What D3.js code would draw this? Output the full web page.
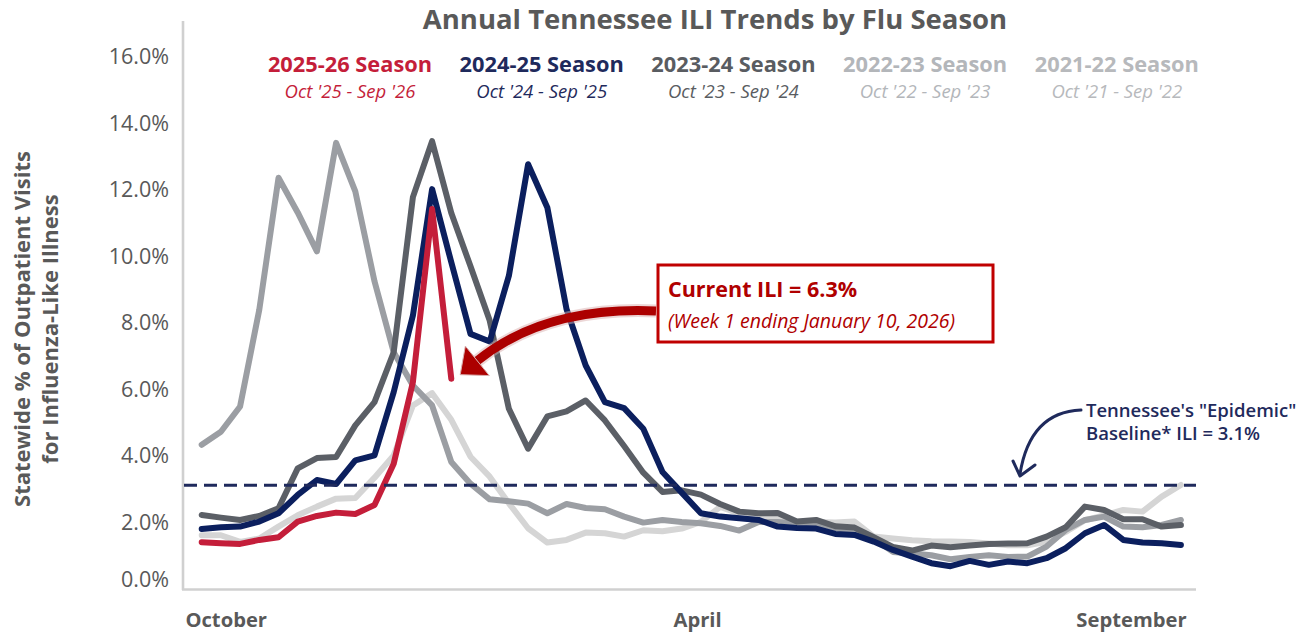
<!DOCTYPE html>
<html><head><meta charset="utf-8">
<script src="https://cdn.jsdelivr.net/npm/d3@7"></script>
<style>
html,body{margin:0;padding:0;background:#fff;}
svg{display:block;font-family:"Open Sans",sans-serif;}
</style></head>
<body><svg id="c" width="1308" height="634"></svg>
<script>
// ---- data ----
const weeks = d3.range(52);
const s2526 = [1.39,1.36,1.34,1.46,1.54,2.01,2.18,2.28,2.24,2.51,3.75,6.2,11.4,6.3];
const s2425 = [1.79,1.84,1.86,2.01,2.26,2.81,3.26,3.14,3.85,4.0,5.9,8.2,12.0,9.8,7.65,7.42,9.4,12.75,11.45,8.4,6.7,5.6,5.42,4.8,3.5,2.88,2.26,2.16,2.11,2.06,1.86,1.82,1.8,1.64,1.61,1.41,1.16,0.96,0.76,0.67,0.83,0.71,0.81,0.76,0.91,1.21,1.66,1.91,1.46,1.38,1.36,1.31];
const s2324 = [2.21,2.13,2.06,2.18,2.41,3.61,3.92,3.95,4.9,5.6,7.1,11.76,13.44,11.28,9.68,8.05,5.4,4.2,5.17,5.32,5.65,5.05,4.28,3.48,2.9,2.95,2.82,2.54,2.31,2.26,2.27,2.01,2.06,1.87,1.83,1.54,1.25,1.14,1.29,1.24,1.29,1.34,1.35,1.36,1.56,1.84,2.46,2.36,2.08,2.08,1.86,1.91];
const s2223 = [4.32,4.71,5.47,8.38,12.34,11.3,10.13,13.39,11.93,9.23,7.1,6.1,5.5,3.8,3.15,2.68,2.62,2.55,2.26,2.54,2.42,2.38,2.16,1.98,2.06,2.0,1.96,1.88,1.74,2.0,2.0,1.95,1.9,1.8,1.75,1.5,1.1,1.05,1.0,0.88,0.95,1.0,0.95,0.96,1.26,1.76,2.06,2.16,1.86,1.84,1.91,2.06];
const s2122 = [1.6,1.6,1.4,1.5,1.86,2.2,2.46,2.7,2.72,3.33,4.0,5.5,5.87,5.07,3.96,3.36,2.56,1.81,1.38,1.46,1.68,1.66,1.56,1.75,1.72,1.8,2.0,2.45,2.26,2.2,2.1,2.0,2.0,1.98,2.01,1.56,1.5,1.45,1.42,1.41,1.4,1.35,1.3,1.3,1.4,1.7,2.05,2.2,2.36,2.31,2.76,3.11];
const seasonNames = ["2025-26 Season","2024-25 Season","2023-24 Season","2022-23 Season","2021-22 Season"];
const seasonRanges = ["Oct '25 - Sep '26","Oct '24 - Sep '25","Oct '23 - Sep '24","Oct '22 - Sep '23","Oct '21 - Sep '22"];
const yTicks = [0,2,4,6,8,10,12,14,16];
const monthLabels = ["October","April","September"];
const monthWeeks = [1.25,25.8,48.4];
const baseline = 3.1;
const currentILI = 6.3;

// ---- styles ----
const lineColors = ["#c41e3a","#0b1f5e","#5b5f66","#9b9ea3","#d5d5d5"];
const legendColors = ["#c41e3a","#1f2a5c","#595c61","#b3b6ba","#b7b9bc"];
const series = [s2526,s2425,s2324,s2223,s2122];

const svg = d3.select("#c");
const x = d3.scaleLinear().domain([0,51]).range([201.7,1180.9]);
const y = d3.scaleLinear().domain([0,16]).range([588.5,56]);
const txt = "#595959";

// title
svg.append("text").attr("x",715).attr("y",29).attr("text-anchor","middle")
  .attr("font-size",27.5).attr("font-weight",700).attr("fill",txt)
  .text("Annual Tennessee ILI Trends by Flu Season");

// legend
seasonNames.forEach((n,i)=>{
  const cx = 350 + i*191.7;
  svg.append("text").attr("x",cx).attr("y",72).attr("text-anchor","middle")
    .attr("font-size",21.8).attr("font-weight",700).attr("fill",legendColors[i]).text(n);
  svg.append("text").attr("x",cx).attr("y",98).attr("text-anchor","middle")
    .attr("font-size",18.5).attr("font-style","italic").attr("fill",legendColors[i]).text(seasonRanges[i]);
});

// y axis labels
const yAxis = d3.axisLeft(y).tickValues(yTicks).tickSize(0).tickPadding(14)
  .tickFormat(d=>d3.format(".1f")(d)+"%");
const ya = svg.append("g").attr("transform","translate(183,0)").call(yAxis);
ya.select(".domain").remove();
ya.selectAll("text").attr("font-size",21.5).attr("fill",txt).attr("font-family","Open Sans")
  .attr("dy","0.35em")
  .attr("transform",d=> d===0 ? "translate(0,-10)" : null);

// y axis title
const yt = svg.append("text").attr("transform","translate(0,329) rotate(-90)")
  .attr("text-anchor","middle").attr("font-size",22).attr("font-weight",700).attr("fill",txt);
yt.append("tspan").attr("x",0).attr("y",30).text("Statewide % of Outpatient Visits");
yt.append("tspan").attr("x",0).attr("y",58).text("for Influenza-Like Illness");

// axis lines
svg.append("line").attr("x1",183).attr("x2",183).attr("y1",21).attr("y2",590)
  .attr("stroke","#d0d0d0").attr("stroke-width",2.6);
svg.append("line").attr("x1",182).attr("x2",1196).attr("y1",589.5).attr("y2",589.5)
  .attr("stroke","#d0d0d0").attr("stroke-width",2.6);

// x labels
const xAxis = d3.axisBottom(x).tickValues(monthWeeks).tickSize(0).tickPadding(0)
  .tickFormat((d,i)=>monthLabels[i]);
const xa = svg.append("g").attr("transform","translate(0,627)").call(xAxis);
xa.select(".domain").remove();
xa.selectAll("text").attr("font-size",20.2).attr("font-weight",700).attr("fill",txt)
  .attr("font-family","Open Sans").attr("dy",0);

// lines (draw oldest first)
const line = d3.line().x((d,i)=>x(weeks[i])).y(d=>y(d));
for (let i=series.length-1;i>=0;i--){
  svg.append("path").datum(series[i]).attr("d",line).attr("fill","none")
    .attr("stroke",lineColors[i]).attr("stroke-width",6)
    .attr("stroke-linejoin","round").attr("stroke-linecap","round");
}

// baseline dashed
svg.append("line").attr("x1",184).attr("x2",1196).attr("y1",y(baseline)).attr("y2",y(baseline))
  .attr("stroke","#1f2a5c").attr("stroke-width",3).attr("stroke-dasharray","13 7");

// annotation box
svg.append("rect").attr("x",658).attr("y",265).attr("width",335).attr("height",77)
  .attr("fill","#fff").attr("stroke","#c00000").attr("stroke-width",3);
svg.append("text").attr("x",668).attr("y",297).attr("font-size",21.5).attr("font-weight",700)
  .attr("fill","#b00000").text("Current ILI = " + currentILI + "%");
svg.append("text").attr("x",668).attr("y",328).attr("font-size",19.5).attr("font-style","italic")
  .attr("fill","#b00000").text("(Week 1 ending January 10, 2026)");

// red curved arrow
const tipX = x(weeks[s2526.length-1]) + 8, tipY = y(currentILI) - 2;
const E = [tipX+18, tipY-16], C = [545,306], S=[656,311];
const dx = E[0]-C[0], dy = E[1]-C[1], L = Math.hypot(dx,dy);
const ux = dx/L, uy = dy/L, px = -uy, py = ux;
svg.append("path").attr("d",`M${S[0]},${S[1]} Q${C[0]},${C[1]} ${E[0]},${E[1]}`)
  .attr("fill","none").attr("stroke","#d9b0b0").attr("stroke-width",13).attr("opacity",0.5);
svg.append("path").attr("d",`M${S[0]},${S[1]} Q${C[0]},${C[1]} ${E[0]},${E[1]}`)
  .attr("fill","none").attr("stroke","#ac0000").attr("stroke-width",9);
svg.append("polygon").attr("points",[
  [E[0]+ux*22, E[1]+uy*22],
  [E[0]+px*19, E[1]+py*19],
  [E[0]-px*19, E[1]-py*19]].map(p=>p.join(",")).join(" "))
  .attr("fill","#ac0000").attr("stroke","#d9b0b0").attr("stroke-width",1);

// navy baseline arrow + label
svg.append("path").attr("d","M1081,410 Q1030,412 1020,474").attr("fill","none")
  .attr("stroke","#1f2a5c").attr("stroke-width",3).attr("stroke-linecap","round");
svg.append("path").attr("d","M1013,461 L1020,476 L1035,465").attr("fill","none")
  .attr("stroke","#1f2a5c").attr("stroke-width",3).attr("stroke-linecap","round").attr("stroke-linejoin","round");
svg.append("text").attr("x",1086).attr("y",417).attr("font-size",18.5).attr("font-weight",600)
  .attr("fill","#1f2a5c").text("Tennessee's \"Epidemic\"");
svg.append("text").attr("x",1086).attr("y",440).attr("font-size",18.5).attr("font-weight",600)
  .attr("fill","#1f2a5c").text("Baseline* ILI = " + baseline + "%");
</script></body></html>
